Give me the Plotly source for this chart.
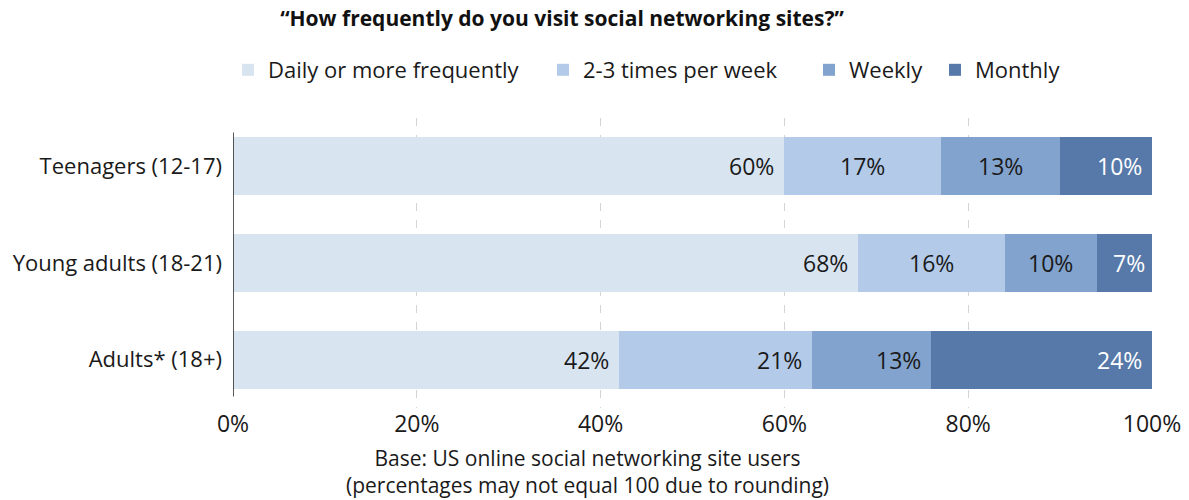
import plotly.graph_objects as go

# Survey data: share of social networking site users by visit frequency
groups = ["Teenagers (12-17)", "Young adults (18-21)", "Adults* (18+)"]
frequencies = ["Daily or more frequently", "2-3 times per week", "Weekly", "Monthly"]
daily = [60, 68, 42]
two_three_weekly = [17, 16, 21]
weekly = [13, 10, 13]
monthly = [10, 7, 24]
x_ticks = [0, 20, 40, 60, 80, 100]
footnote_lines = [
    "Base: US online social networking site users",
    "(percentages may not equal 100 due to rounding)",
]

series = [daily, two_three_weekly, weekly, monthly]
colors = ["#d9e4f1", "#b3cbe9", "#82a3cd", "#5679a9"]
label_colors = ["#1a1a1a", "#1a1a1a", "#1a1a1a", "#ffffff"]
# how each value label sits inside its segment, per group
label_align = [
    ["end", "middle", "middle", "end"],
    ["end", "middle", "middle", "middle"],
    ["end", "end", "end", "end"],
]
# left edge (px) of each legend entry along the top row
legend_left_px = [228, 543, 809, 935]

FONT = "Open Sans, Noto Sans, DejaVu Sans, sans-serif"
TXT = "#1a1a1a"

W, H = 1189, 500
ML, MR, MT, MB = 233, 37, 118, 92
PW, PH = W - ML - MR, H - MT - MB


def px_to_paper(px, py):
    return (px - ML) / PW, (H - MB - py) / PH


legend_ids = ["legend", "legend2", "legend3", "legend4"]

fig = go.Figure()
for name, vals, col, lid in zip(frequencies, series, colors, legend_ids):
    fig.add_trace(go.Bar(
        y=groups, x=vals, name=name, orientation="h",
        marker=dict(color=col, line=dict(width=0)),
        hoverinfo="x+name", legend=lid, showlegend=True,
    ))

# value labels, positioned from the cumulative bar extents
annotations = []
for gi, g in enumerate(groups):
    start = 0
    for si, vals in enumerate(series):
        v = vals[gi]
        end = start + v
        if label_align[gi][si] == "end":
            ax, anchor, shift = end, "right", -8
        else:
            ax, anchor, shift = start + v / 2, "center", 0
        annotations.append(dict(
            x=ax, y=g, xref="x", yref="y", text=f"{v}%", showarrow=False,
            xanchor=anchor, xshift=shift,
            font=dict(family=FONT, size=23, color=label_colors[si]),
        ))
        start = end

# two-line footnote under the axis
fx, fy = px_to_paper(587, 471)
annotations.append(dict(
    text="<br>".join(footnote_lines), xref="paper", yref="paper", x=fx, y=fy,
    xanchor="center", yanchor="middle", showarrow=False, align="center",
    font=dict(family=FONT, size=21, color=TXT),
))

legends = {}
for lid, lpx in zip(legend_ids, legend_left_px):
    lx, ly = px_to_paper(lpx, 70)
    legends[lid] = dict(
        orientation="h", xref="paper", x=lx, xanchor="left",
        yref="paper", y=ly, yanchor="middle",
        font=dict(family=FONT, size=22, color=TXT),
        bgcolor="rgba(0,0,0,0)",
    )

fig.update_layout(
    width=W, height=H,
    margin=dict(l=ML, r=MR, t=MT, b=MB, autoexpand=False),
    paper_bgcolor="white", plot_bgcolor="white",
    barmode="stack", bargap=0.4, showlegend=True,
    font=dict(family=FONT, size=22, color=TXT),
    title=dict(
        text="<b>“How frequently do you visit social networking sites?”</b>",
        xref="container", x=562 / W, xanchor="center",
        yref="container", y=1 - 19 / H, yanchor="middle",
        font=dict(family=FONT, size=21, color="#111111"),
    ),
    xaxis=dict(
        range=[0, 100], tickvals=x_ticks, ticktext=[f"{t}%" for t in x_ticks],
        showgrid=True, gridcolor="#d4d4d4", gridwidth=1, griddash="8px,9px",
        zeroline=False, showline=False, ticks="", fixedrange=True,
        automargin=False,
        tickfont=dict(family=FONT, size=23, color=TXT),
    ),
    yaxis=dict(
        categoryorder="array", categoryarray=groups, autorange="reversed",
        showgrid=False, zeroline=False, showline=False, ticks="",
        ticklabelstandoff=10, automargin=False,
        tickfont=dict(family=FONT, size=22, color=TXT),
    ),
    annotations=annotations,
    shapes=[dict(
        type="line", xref="x", yref="y", x0=0, x1=0, y0=-0.35, y1=2.38,
        line=dict(color="#222222", width=1.5), layer="above",
    )],
    **legends,
)

fig.write_html("out.html")
